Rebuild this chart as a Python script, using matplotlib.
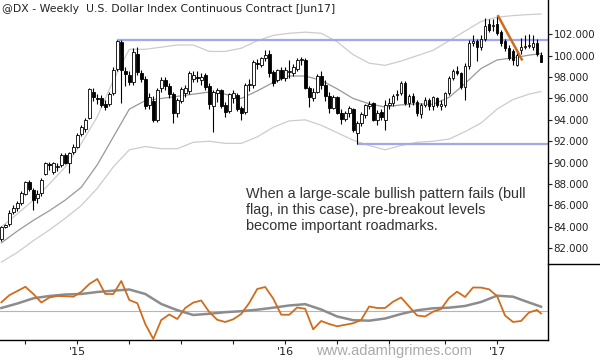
import numpy as np
import pandas as pd
import matplotlib
matplotlib.use('Agg')
import matplotlib.pyplot as plt
from matplotlib.lines import Line2D

# weekly bars, Fridays, Aug 2014 - Mar 2017
weeks = pd.date_range('2014-08-22', periods=136, freq='W-FRI')

opens = [82.9, 84.0, 84.3, 85.4, 85.8, 86.2, 87.1, 88.2, 87.4, 86.7,
         87.2, 88.9, 89.9, 89.1, 89.6, 89.8, 90.7, 90.0, 91.0, 91.5,
         92.7, 93.1, 94.2, 96.6, 96.05, 96.0, 95.5, 95.5, 96.5, 98.8,
         101.25, 98.6, 98.2, 97.5, 100.2, 98.4, 97.8, 95.4, 95.8, 94.0,
         97.0, 97.7, 97.2, 96.4, 94.6, 95.8, 96.5, 96.7, 97.8, 98.0,
         97.7, 98.2, 97.2, 95.3, 96.5, 96.8, 95.4, 94.8, 96.0, 96.3,
         95.1, 94.7, 97.25, 97.3, 99.3, 99.15, 99.75, 100.2, 98.5, 97.7,
         98.66, 97.9, 98.5, 98.35, 98.8, 99.6, 99.6, 97.0, 96.0, 96.6,
         98.1, 97.3, 96.2, 95.1, 96.1, 94.6, 94.1, 94.6, 95.0, 92.8,
         93.7, 94.45, 95.3, 95.55, 94.0, 94.7, 94.0, 95.4, 95.6, 96.3,
         96.5, 97.4, 95.6, 96.2, 95.7, 94.5, 95.4, 95.9, 95.3, 96.0,
         95.3, 95.4, 96.5, 97.9, 98.6, 98.35, 97.1, 99.0, 101.2, 101.4,
         100.8, 101.6, 103.0, 102.8, 103.0, 102.2, 101.4, 100.7, 100.4, 99.1,
         100.5, 100.8, 100.9, 100.85, 101.2, 100.1]
highs = [84.1, 84.3, 85.6, 86.0, 86.4, 87.3, 88.3, 88.4, 87.6, 87.4,
         88.6, 90.1, 90.1, 90.1, 90.0, 90.9, 90.9, 91.0, 91.7, 92.8,
         93.5, 94.2, 97.0, 97.0, 96.4, 96.3, 95.9, 96.6, 98.9, 101.47,
         101.47, 98.9, 98.6, 100.7, 100.85, 98.7, 98.1, 96.5, 96.2, 97.0,
         98.0, 98.0, 97.4, 96.6, 96.0, 97.1, 97.3, 98.6, 98.6, 98.6,
         98.4, 98.4, 97.4, 96.8, 97.0, 96.9, 95.7, 96.5, 96.8, 96.5,
         95.3, 97.4, 97.8, 99.6, 99.7, 99.9, 100.5, 100.5, 98.7, 98.8,
         98.9, 98.9, 99.6, 99.2, 99.8, 99.9, 99.8, 97.2, 97.0, 98.3,
         98.6, 97.7, 96.6, 96.3, 96.2, 95.0, 94.8, 95.3, 95.1, 93.9,
         94.7, 95.5, 95.8, 95.7, 94.9, 95.0, 95.9, 96.0, 96.4, 96.8,
         97.6, 97.6, 96.4, 96.5, 95.9, 95.6, 96.1, 96.0, 96.2, 96.1,
         95.9, 96.6, 98.1, 98.8, 99.0, 98.5, 99.3, 101.5, 101.9, 101.6,
         101.9, 103.5, 103.4, 103.4, 103.7, 102.4, 101.6, 101.0, 100.6, 100.5,
         101.7, 101.9, 102.0, 101.9, 101.6, 100.3]
lows = [82.7, 83.9, 84.1, 85.2, 85.5, 86.0, 87.0, 87.3, 85.6, 86.2,
        86.9, 88.8, 89.3, 88.9, 89.2, 89.6, 89.9, 89.0, 90.8, 91.4,
        92.5, 92.9, 94.1, 95.8, 95.5, 95.2, 94.9, 95.3, 96.3, 98.6,
        95.55, 97.2, 97.3, 97.3, 98.2, 97.5, 95.0, 95.0, 93.8, 93.8,
        96.6, 96.8, 96.0, 93.7, 94.3, 95.6, 96.1, 96.4, 97.5, 97.5,
        97.3, 96.8, 95.0, 92.9, 95.7, 95.1, 94.3, 94.6, 95.6, 94.8,
        94.0, 94.5, 96.7, 97.0, 98.8, 98.9, 99.5, 98.0, 97.2, 97.5,
        97.7, 97.6, 97.9, 98.1, 98.6, 99.1, 96.9, 95.2, 95.8, 96.5,
        96.9, 95.8, 94.6, 95.0, 94.5, 93.6, 93.9, 94.3, 92.9, 91.75,
        93.4, 94.2, 95.0, 93.9, 93.5, 94.0, 93.05, 95.0, 95.3, 95.9,
        96.3, 95.4, 95.2, 95.4, 94.4, 94.2, 95.2, 94.9, 94.9, 95.2,
        94.9, 95.2, 96.3, 97.7, 98.2, 96.9, 95.9, 98.8, 100.9, 99.5,
        100.5, 101.4, 102.2, 102.3, 101.9, 100.9, 100.4, 99.6, 99.1, 99.0,
        100.2, 100.6, 100.7, 100.5, 100.0, 99.4]
closes = [84.0, 84.15, 85.3, 85.8, 86.2, 87.15, 88.2, 87.5, 86.5, 87.1,
          88.4, 89.95, 89.75, 89.95, 89.7, 90.7, 90.0, 90.9, 91.5, 92.6,
          93.3, 94.0, 96.9, 96.1, 95.95, 95.35, 95.2, 96.4, 98.65, 101.35,
          98.7, 98.3, 97.5, 100.3, 98.5, 97.8, 95.3, 96.1, 94.0, 96.8,
          97.7, 97.2, 96.4, 94.6, 95.85, 96.9, 97.0, 98.35, 98.2, 97.9,
          98.0, 97.1, 95.5, 96.6, 96.8, 95.3, 94.7, 96.4, 96.5, 95.0,
          94.6, 97.25, 97.3, 99.4, 99.2, 99.75, 100.06, 98.35, 97.4, 98.65,
          97.9, 98.7, 98.55, 98.97, 99.6, 99.65, 97.0, 96.1, 96.6, 98.1,
          97.3, 96.2, 95.1, 96.1, 94.6, 94.1, 94.6, 95.1, 93.05, 93.7,
          94.5, 95.35, 95.5, 94.0, 94.6, 94.3, 95.4, 95.6, 96.2, 96.4,
          97.4, 95.6, 96.2, 95.7, 94.6, 95.4, 95.9, 95.3, 96.1, 95.4,
          95.5, 96.5, 97.9, 98.6, 98.35, 97.1, 99.0, 101.2, 101.4, 100.8,
          101.6, 102.8, 102.4, 102.9, 102.1, 101.2, 100.7, 99.75, 99.6, 100.06,
          100.85, 100.9, 101.0, 101.2, 100.2, 99.45]

# channel (every 4th week + last week)
band_mid = [82.5, 83.6, 84.6, 85.5, 86.5, 87.7, 89.8, 92.4, 95.0, 95.8,
            96.0, 96.2, 96.4, 96.6, 96.4, 96.0, 96.7, 97.5, 98.1, 98.1,
            97.7, 96.9, 96.0, 95.5, 95.2, 95.4, 95.5, 95.45, 96.1, 97.4,
            98.8, 99.6, 99.8, 100.05, 100.2]
band_up = [84.0, 85.2, 86.5, 88.0, 89.6, 91.8, 94.3, 97.7, 100.6, 100.6,
           100.8, 101.0, 101.0, 100.4, 100.4, 100.7, 101.4, 101.9, 102.1, 102.2,
           102.1, 101.3, 100.1, 99.3, 99.1, 99.5, 100.0, 100.5, 101.4, 102.3,
           103.2, 103.6, 103.75, 103.85, 103.9]
band_lo = [80.7, 81.6, 82.7, 83.7, 84.8, 86.0, 87.6, 89.6, 91.2, 91.5,
           91.3, 91.3, 91.9, 92.0, 91.8, 91.8, 92.4, 93.3, 93.9, 94.0,
           93.5, 92.8, 92.1, 91.6, 91.2, 91.6, 91.9, 92.0, 92.2, 92.9,
           93.7, 95.0, 95.9, 96.4, 96.65]

# lower panel oscillator (orange every 2nd week, gray every 4th week)
osc_fast = [0.92, 1.63, 2.05, 2.47, 1.75, 0.9, 1.4, 1.55, 1.53, 1.48,
            1.97, 2.75, 3.25, 1.75, 1.75, 3.05, 1.15, 0.83, -1.25, -2.75,
            -0.85, -0.3, -0.75, 0.35, 0.89, 1.1, -0.05, -0.83, -1.05, -0.78,
            -0.25, 0.85, 2.25, 2.45, 1.3, -0.32, -0.33, 0.4, 0.27, -1.78,
            -0.95, -1.25, -1.48, -1.33, -1.18, -0.85, 0.5, 0.35, 0.35, 0.98,
            1.4, 0.5, -0.4, -0.5, -0.02, 0.25, 1.35, 1.98, 1.45, 2.4,
            2.39, 2.22, 1.55, -0.4, -1.05, -0.95, -0.1, 0.15, -0.2]
osc_slow = [0.35, 0.8, 1.32, 1.55, 1.7, 1.75, 1.95, 2.08, 2.2, 1.75,
            0.75, 0.13, -0.35, -0.23, -0.07, 0.03, 0.18, 0.38, 0.6, 0.73,
            0.2, -0.5, -0.87, -0.92, -0.7, -0.25, 0.12, 0.32, 0.38, 0.55,
            0.95, 1.58, 1.48, 0.9, 0.48]

# failed flag line drawn on the chart
flag_x = [124.3, 130.2]
flag_y = [103.7, 99.65]

title = '@DX - Weekly  U.S. Dollar Index Continuous Contract [Jun17]'
note = ('When a large-scale bullish pattern fails (bull\n'
        'flag, in this case), pre-breakout levels\n'
        'become important roadmarks.')

n = len(closes)
idx = np.arange(n)
o = np.array(opens); h = np.array(highs); l = np.array(lows); c = np.array(closes)
band_idx = np.r_[np.arange(0, n, 4), n - 1]
fast_idx = np.r_[np.arange(0, n, 2), n - 1]

xmin, xmax = -0.35, 136.75

fig = plt.figure(figsize=(6, 3.6), dpi=100)
ax = fig.add_axes([0, 0.2653, 0.9133, 0.7347])
ax2 = fig.add_axes([0, 0.0556, 0.9133, 0.2097])

# channel lines
ax.plot(band_idx, band_up, color='#cccccc', lw=0.9, zorder=1)
ax.plot(band_idx, band_lo, color='#cccccc', lw=0.9, zorder=1)
ax.plot(band_idx, band_mid, color='#999999', lw=0.9, zorder=1)

# breakout level (2015 high) and the low after it
top_i = int(np.argmax(h[:60]))
low_i = top_i + int(np.argmin(l[top_i:]))
ax.hlines(h[top_i], top_i, xmax, color='#a3a8ec', lw=1.6, zorder=2)
ax.hlines(l[low_i], low_i, xmax, color='#a3a8ec', lw=1.6, zorder=2)

# candles
ax.vlines(idx, l, h, color='black', lw=0.8, zorder=3)
body = np.maximum(np.abs(c - o), 0.06)
face = np.where(c >= o, 'white', 'black')
ax.bar(idx, body, bottom=np.minimum(o, c), width=0.7, color=face,
       edgecolor='black', linewidth=0.6, zorder=4)

ax.plot(flag_x, flag_y, color='#cf6d1f', lw=1.8, zorder=5)

ax.set_xlim(xmin, xmax)
ax.set_ylim(80.47, 105.21)
for s in ['top', 'left', 'bottom']:
    ax.spines[s].set_visible(False)
ax.spines['right'].set_linewidth(1)
ax.set_xticks([])
ax.yaxis.tick_right()
yt = np.arange(82, 103, 2)
ax.set_yticks(yt)
ax.set_yticklabels(['%.3f' % v for v in yt])
ax.tick_params(axis='y', direction='out', length=3, width=0.8, labelsize=7.4,
               pad=1, colors='#222222')

ax.text(0.004, 0.985, title, transform=ax.transAxes, ha='left', va='top',
        fontsize=7.8, color='#222222')
fig.text(0.41, 0.4167, note, ha='left', va='center', fontsize=10.4,
         family='Liberation Sans', color='#333333', linespacing=1.22)

# lower panel
ax2.axhline(0, color='#b5b5b5', lw=0.8, zorder=1)
ax2.plot(band_idx, osc_slow, color='#8c8c8c', lw=1.8, zorder=2)
ax2.plot(fast_idx, osc_fast, color='#cf6d1f', lw=1.3, zorder=3)
ax2.set_xlim(xmin, xmax)
ax2.set_ylim(-2.85, 4.7)
for s in ['top', 'left']:
    ax2.spines[s].set_visible(False)
ax2.spines['right'].set_linewidth(1)
ax2.spines['bottom'].set_linewidth(1)
ax2.set_yticks([])
q_ticks = [i for i in range(1, n) if weeks[i].quarter != weeks[i - 1].quarter]
q_labels = ["'" + weeks[i].strftime('%y') if weeks[i].month == 1 else '' for i in q_ticks]
ax2.set_xticks(q_ticks)
ax2.set_xticklabels(q_labels)
ax2.tick_params(axis='x', direction='out', length=3, width=0.8, labelsize=8,
                pad=2, colors='#222222')

fig.add_artist(Line2D([0.9133, 1.0], [0.2653, 0.2653], color='black', lw=1,
                      transform=fig.transFigure))
fig.text(0.6575, 0.026, 'www.adamhgrimes.com', ha='center', va='center',
         fontsize=10.5, family='Liberation Sans', color='#aaaaaa')

fig.savefig('out.png', dpi=100)
